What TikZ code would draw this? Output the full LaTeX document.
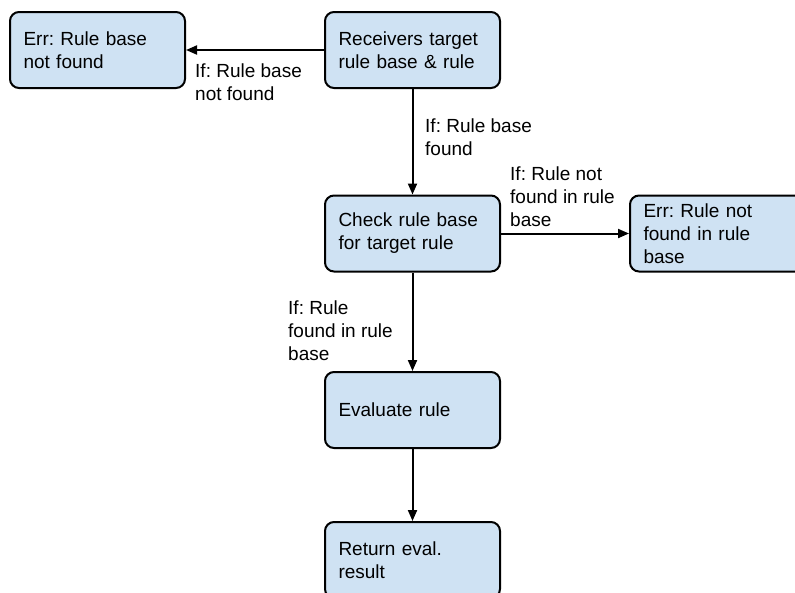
\documentclass[tikz,border=0pt]{standalone}
\usepackage{fontspec}
\setmainfont{Liberation Sans}
\usetikzlibrary{arrows.meta}
\definecolor{boxfill}{HTML}{CFE2F3}
\frenchspacing
\begin{document}
\begin{tikzpicture}[x=1pt,y=-1pt,
  flowbox/.style={draw=black, line width=2pt, fill=boxfill, rounded corners=9pt,
    minimum width=175pt, minimum height=76pt, text width=148pt, inner xsep=13.5pt,
    inner ysep=0pt, align=left, font=\fontsize{19}{23}\selectfont},
  lbl/.style={anchor=north west, inner sep=0pt, align=left, font=\fontsize{19}{23}\selectfont},
  conn/.style={line width=2pt, -{Triangle[length=11pt,width=9pt]}}]
\useasboundingbox (0,0) rectangle (795,592);
\clip (0,0) rectangle (795,592);
\fill[white] (0,0) rectangle (795,592);
\node[flowbox] (err1) at (97.5,50) {Err: Rule base\\not found};
\node[flowbox] (recv) at (412.5,50) {Receivers target\\rule base \& rule};
\node[flowbox] (check) at (412.5,233.5) {Check rule base\\for target rule};
\node[flowbox] (err2) at (717.5,233.5) {Err: Rule not\\found in rule\\base};
\node[flowbox] (eval) at (412.5,410) {Evaluate rule};
\node[flowbox] (ret) at (412.5,560) {Return eval.\\result};
\draw[conn] (recv.west) -- (err1.east);
\draw[conn] (recv.south) -- (check.north);
\draw[conn] (check.east) -- (err2.west);
\draw[conn] (check.south) -- (eval.north);
\draw[conn] (eval.south) -- (ret.north);
\node[lbl] (l1) at (195,64) {If: Rule base\\not found};
\node[lbl] (l2) at (425,119) {If: Rule base\\found};
\node[lbl] (l3) at (510,167) {If: Rule not\\found in rule\\base};
\node[lbl] (l4) at (288,301) {If: Rule\\found in rule\\base};
\end{tikzpicture}
\end{document}
